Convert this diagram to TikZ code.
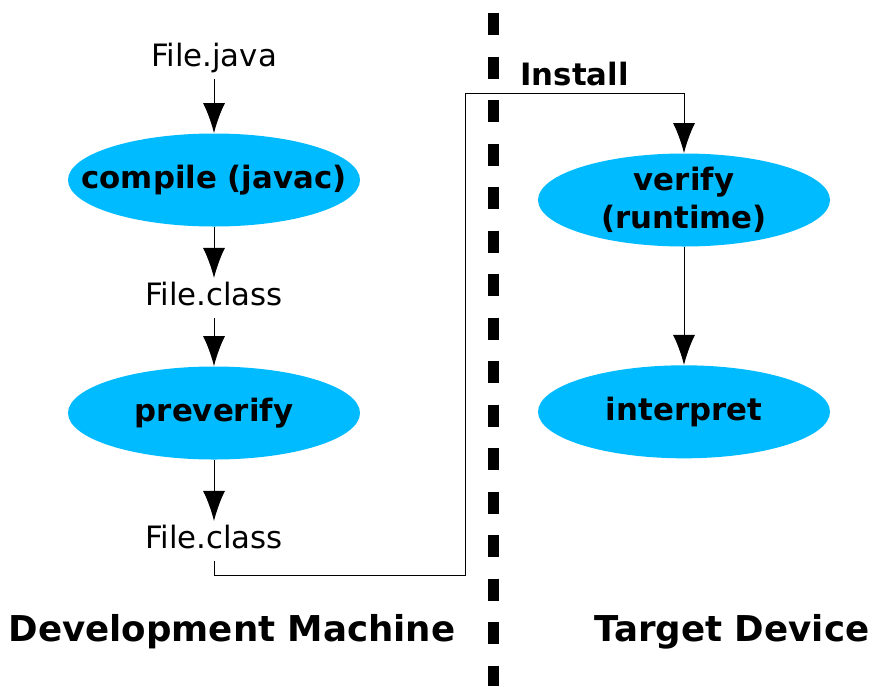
\documentclass[tikz,border=0pt]{standalone}
\usepackage{fontspec}
\setmainfont{DejaVu Sans}
\usepackage{tikz}
\usetikzlibrary{shapes, arrows.meta, positioning}
\definecolor{procblue}{RGB}{0,187,255}

\begin{document}
\begin{tikzpicture}[x=0.5pt, y=-0.5pt, >={Latex[length=15pt,width=11pt]}]
    \tikzstyle{proc} = [ellipse, fill=procblue, minimum width=146pt, minimum height=46.5pt, inner sep=0pt, align=center, font=\fontsize{15.4}{19}\selectfont\bfseries]
    \tikzstyle{file} = [inner sep=2.2pt, text height=11.5pt, text depth=3.8pt, font=\fontsize{15.4}{19}\selectfont]
    \tikzstyle{side} = [font=\fontsize{17.8}{21}\selectfont\bfseries]
    \tikzstyle{flow} = [->, line width=0.5pt]

    \useasboundingbox (0,0) rectangle (876,686);

    \node [file] (java) at (214,59) {File.java};
    \node [proc, inner xsep=-45pt] (compile) at (214,180) {compile (javac)};
    \node [file] (cls1) at (214,298) {File.class};
    \node [proc] (prever) at (214,413) {preverify};
    \node [file] (cls2) at (214,541) {File.class};

    \node [proc, inner ysep=-2pt] (verify) at (684,200) {verify\\(runtime)};
    \node [proc, below=59pt of verify] (interp) {interpret};

    \node [side] (devm) at (232,632) {Development Machine};
    \node [side] (target) at (732,632) {Target Device};

    % divider
    \coordinate (divtop) at (493,13);
    \coordinate (divbot) at (493,686);
    \draw [line width=5.5pt, dash pattern=on 11pt off 10.75pt] (divtop) -- (divbot);

    % Connections
    \draw[flow] (java) -- (compile);
    \draw[flow] (compile) -- (cls1);
    \draw[flow] (cls1) -- (prever);
    \draw[flow] (prever) -- (cls2);
    \draw[flow] (verify) -- (interp);

    \coordinate (lowturn) at (465,575);
    \coordinate (highturn) at (465,93);
    \draw[flow] (cls2.south) |- (lowturn) -- (highturn) -| (verify.north)
        node[pos=0.25, above, font=\fontsize{15.4}{19}\selectfont\bfseries] {Install};
\end{tikzpicture}
\end{document}
